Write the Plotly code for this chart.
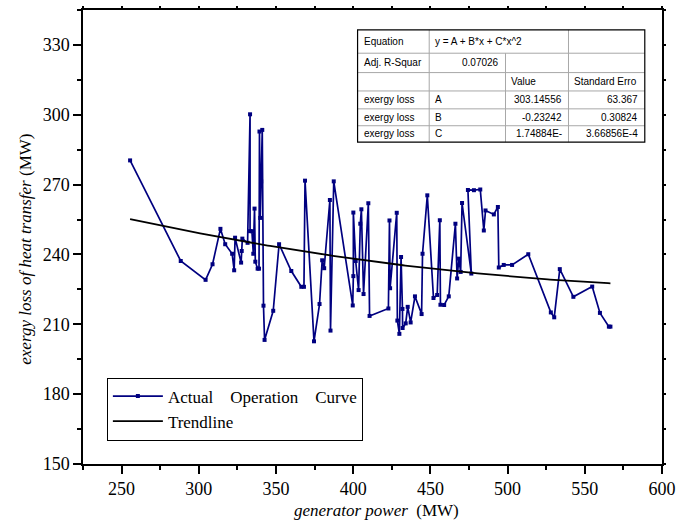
import numpy as np
import plotly.graph_objects as go

# generator power (MW) and exergy loss of heat transfer (MW), in operating order
power_mw = [255.5, 288.3, 304.4, 308.9, 314.0, 317.1, 321.6, 322.9, 323.5, 327.4,
            327.8, 328.2, 331.6, 333.2, 333.2, 334.4, 335.3, 336.1, 336.6, 338.1,
            339.0, 339.3, 339.8, 340.4, 341.1, 341.9, 342.6, 348.2, 352.0, 359.9,
            366.4, 368.1, 368.8, 374.6, 378.2, 379.9, 381.2, 384.9, 385.3, 387.4,
            399.7, 400.1, 400.1, 401.6, 403.5, 404.6, 405.3, 406.7, 409.8, 410.6,
            422.8, 423.5, 423.9, 428.2, 428.6, 429.9, 431.0, 431.9, 432.0, 434.0,
            435.3, 437.2, 440.0, 444.3, 444.9, 448.0, 452.0, 454.4, 456.1, 456.5,
            458.9, 461.9, 466.2, 467.3, 468.4, 469.6, 470.5, 476.5, 474.3, 478.2,
            482.3, 484.6, 485.7, 491.1, 493.7, 494.3, 497.5, 502.9, 513.4, 528.0,
            530.2, 533.8, 542.6, 554.8, 559.8, 565.6, 566.6]
exergy_loss = [280.4, 237.2, 229.1, 235.8, 251.0, 244.4, 240.3, 233.2, 247.2, 236.5,
               241.5, 246.8, 245.0, 300.2, 250.0, 250.0, 240.3, 259.7, 236.9, 233.9,
               233.9, 292.8, 255.7, 271.4, 293.5, 218.0, 203.3, 215.8, 244.4, 232.9,
               226.1, 226.1, 271.7, 202.7, 218.7, 237.5, 234.1, 263.4, 207.3, 271.4,
               218.1, 230.7, 258.0, 237.2, 224.7, 253.2, 259.4, 223.0, 262.0, 213.6,
               216.8, 254.6, 225.5, 257.9, 211.6, 205.9, 238.9, 216.6, 208.4, 210.4,
               217.5, 210.8, 222.0, 214.4, 240.3, 265.4, 221.3, 222.6, 254.7, 218.4,
               218.3, 222.0, 253.2, 229.7, 238.2, 232.5, 262.1, 231.8, 267.7, 267.6,
               267.9, 250.3, 258.9, 257.2, 260.4, 234.4, 235.5, 235.5, 240.1, 215.1,
               213.0, 233.7, 221.8, 226.2, 214.9, 209.0, 209.0]

# quadratic fit results
fit_equation = "y = A + B*x + C*x^2"
adj_r_square = "0.07026"
param_names = ["A", "B", "C"]
param_values = [303.14556, -0.23242, 1.74884e-4]
param_value_text = ["303.14556", "-0.23242", "1.74884E-"]
param_error_text = ["63.367", "0.30824", "3.66856E-4"]
series_name = "exergy loss"

x_ticks = [250, 300, 350, 400, 450, 500, 550, 600]
y_ticks = [150, 180, 210, 240, 270, 300, 330]

W, H = 683, 523
ML, MR, MT, MB = 83, 18, 7, 59
PW, PH = W - ML - MR, H - MT - MB


def fx(p):
    return (p - ML) / PW


def fy(p):
    return (H - MB - p) / PH


navy = "#000080"
serif = "Liberation Serif, Times New Roman, Times, serif"
sans = "Liberation Sans, Arial, sans-serif"

fig = go.Figure()

fig.add_trace(go.Scatter(
    x=power_mw, y=exergy_loss, mode="lines+markers",
    name="Actual\u00a0\u00a0\u00a0 Operation\u00a0\u00a0\u00a0 Curve",
    line=dict(color=navy, width=1.7),
    marker=dict(symbol="square", size=4, color=navy),
))

A, B, C = param_values
trend_x = np.linspace(min(power_mw), max(power_mw), 200)
trend_y = A + B * trend_x + C * trend_x ** 2
fig.add_trace(go.Scatter(
    x=trend_x, y=trend_y, mode="lines", name="Trendline",
    line=dict(color="black", width=1.8),
))

# helper trace so the top/right tick axes are drawn
fig.add_trace(go.Scatter(x=[], y=[], xaxis="x2", yaxis="y2",
                         showlegend=False, hoverinfo="skip"))

axis_font = dict(family=serif, size=18, color="black")
fig.update_layout(
    width=W, height=H,
    margin=dict(l=ML, r=MR, t=MT, b=MB, pad=0),
    paper_bgcolor="white", plot_bgcolor="white",
    showlegend=True,
    legend=dict(
        x=fx(107), y=fy(377), xanchor="left", yanchor="top",
        bgcolor="white", bordercolor="black", borderwidth=1,
        font=dict(family=serif, size=17, color="black"),
        itemwidth=50, tracegroupgap=0,
    ),
    xaxis=dict(
        range=[225, 600], tickmode="array", tickvals=x_ticks,
        ticktext=[str(v) for v in x_ticks],
        ticks="outside", ticklen=8, tickwidth=1.5, tickcolor="black",
        showline=True, linecolor="black", linewidth=1.5, mirror=True,
        showgrid=False, zeroline=False, tickfont=axis_font,
        minor=dict(tick0=225, dtick=25, ticks="outside", ticklen=4,
                   tickwidth=1.5, tickcolor="black", showgrid=False),
    ),
    yaxis=dict(
        range=[150, 345], tickmode="array", tickvals=y_ticks,
        ticktext=[str(v) for v in y_ticks],
        ticks="outside", ticklen=8, tickwidth=1.5, tickcolor="black",
        showline=True, linecolor="black", linewidth=1.5, mirror=True,
        showgrid=False, zeroline=False, tickfont=axis_font,
        minor=dict(tick0=150, dtick=15, ticks="outside", ticklen=4,
                   tickwidth=1.5, tickcolor="black", showgrid=False),
    ),
    xaxis2=dict(
        overlaying="x", side="top", range=[225, 600],
        tickmode="linear", tick0=225, dtick=25,
        ticks="outside", ticklen=3, tickwidth=1.5, tickcolor="black",
        showticklabels=False, showline=False, showgrid=False, zeroline=False,
    ),
    yaxis2=dict(
        overlaying="y", side="right", range=[150, 345],
        tickmode="linear", tick0=150, dtick=15,
        ticks="outside", ticklen=3, tickwidth=1.5, tickcolor="black",
        showticklabels=False, showline=False, showgrid=False, zeroline=False,
    ),
)

annotations = [
    dict(text="<i>exergy loss of heat transfer</i> (MW)",
         x=fx(25), y=fy(248), xref="paper", yref="paper",
         xanchor="center", yanchor="middle", textangle=-90, showarrow=False,
         font=dict(family=serif, size=17, color="black")),
    dict(text="<i>generator power</i>\u00a0 (MW)",
         x=fx(378), y=fy(511), xref="paper", yref="paper",
         xanchor="center", yanchor="middle", showarrow=False,
         font=dict(family=serif, size=17, color="black")),
]

# fit summary table
col_edges = [359, 431, 507.7, 571, 647.7]
row_edges = [27, 50.5, 70, 88.5, 106.5, 123.5, 140]
grid_color = "#a8a8a8"
shapes = []
for r in row_edges[1:-1]:
    shapes.append(dict(type="line", xref="paper", yref="paper",
                       x0=fx(col_edges[0]), x1=fx(col_edges[-1]), y0=fy(r), y1=fy(r),
                       line=dict(color=grid_color, width=1)))
for i, c in enumerate(col_edges[1:-1]):
    top = row_edges[1] if i == 1 else row_edges[0]
    shapes.append(dict(type="line", xref="paper", yref="paper",
                       x0=fx(c), x1=fx(c), y0=fy(top), y1=fy(row_edges[-1]),
                       line=dict(color=grid_color, width=1)))
shapes.append(dict(type="rect", xref="paper", yref="paper",
                   x0=fx(col_edges[0]), x1=fx(col_edges[-1]),
                   y0=fy(row_edges[0]), y1=fy(row_edges[-1]),
                   line=dict(color="black", width=1.2), fillcolor="rgba(0,0,0,0)"))

cells = [
    (0, 0, "Equation", "left"), (0, 1, fit_equation, "left"),
    (1, 0, "Adj. R-Squar", "left"), (1, 1, adj_r_square, "right"),
    (2, 2, "Value", "left"), (2, 3, "Standard Erro", "left"),
]
for i, name in enumerate(param_names):
    cells += [(3 + i, 0, series_name, "left"), (3 + i, 1, name, "left"),
              (3 + i, 2, param_value_text[i], "right"),
              (3 + i, 3, param_error_text[i], "right")]

table_font = dict(family=sans, size=10, color="black")
for r, c, txt, align in cells:
    yc = (row_edges[r] + row_edges[r + 1]) / 2
    if align == "left":
        xp, anchor = col_edges[c] + 4, "left"
    else:
        xp, anchor = col_edges[c + 1] - 5, "right"
    annotations.append(dict(text=txt, x=fx(xp), y=fy(yc), xref="paper", yref="paper",
                            xanchor=anchor, yanchor="middle", showarrow=False,
                            font=table_font))

fig.update_layout(annotations=annotations, shapes=shapes)

fig.write_html("out.html")
